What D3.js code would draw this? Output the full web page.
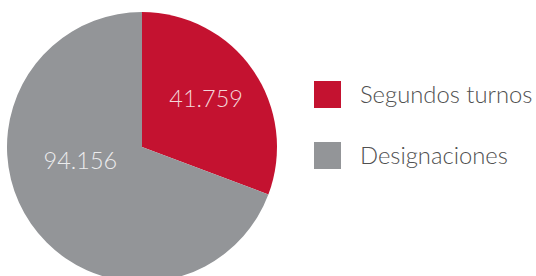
<!DOCTYPE html>
<html>
<head>
<meta charset="utf-8">
<script src="https://cdn.jsdelivr.net/npm/d3@7"></script>
<style>
  body { margin: 0; background: #fff; }
  svg { display: block; }
  text { font-family: Lato, "Open Sans", sans-serif; font-weight: 300; }
</style>
</head>
<body>
<svg width="536" height="276"></svg>
<script>
// datos
var categorias = ["Segundos turnos", "Designaciones"];
var valores = [41.759, 94.156];
var etiquetas = ["41.759", "94.156"];
var colores = ["#c41230", "#939598"];

var svg = d3.select("svg"),
  cx = 142,
  cy = 147,
  radio = 135;

var pie = d3.pie().sort(null).value(function(d) { return d; });
var arcos = pie(valores);
var arco = d3.arc().innerRadius(0).outerRadius(radio);

var g = svg.append("g").attr("transform", "translate(" + cx + "," + cy + ")");

g.selectAll("path")
  .data(arcos)
  .enter().append("path")
  .attr("d", arco)
  .attr("fill", function(d, i) { return colores[i]; });

// posicion de etiquetas (angulo, radio) a mano
var posEtiq = [[0.93, 80], [4.5, 63]];
g.selectAll("text.valor")
  .data(arcos)
  .enter().append("text")
  .attr("class", "valor")
  .attr("x", function(d, i) { return Math.sin(posEtiq[i][0]) * posEtiq[i][1]; })
  .attr("y", function(d, i) { return -Math.cos(posEtiq[i][0]) * posEtiq[i][1]; })
  .attr("dy", "0.35em")
  .attr("text-anchor", "middle")
  .attr("font-size", 23.5)
  .attr("fill", function(d, i) { return i == 0 ? "#f3d6da" : "#ececed"; })
  .text(function(d, i) { return etiquetas[i]; });

// leyenda
var leyenda = svg.append("g").attr("transform", "translate(314,81)");
var item = leyenda.selectAll("g")
  .data(categorias)
  .enter().append("g")
  .attr("transform", function(d, i) { return "translate(0," + (i * 61) + ")"; });

item.append("rect")
  .attr("width", 27)
  .attr("height", 27)
  .attr("fill", function(d, i) { return colores[i]; });

item.append("text")
  .attr("x", 46)
  .attr("y", 22)
  .attr("font-size", 23.8)
  .attr("fill", "#505050")
  .text(function(d) { return d; });
</script>
</body>
</html>
